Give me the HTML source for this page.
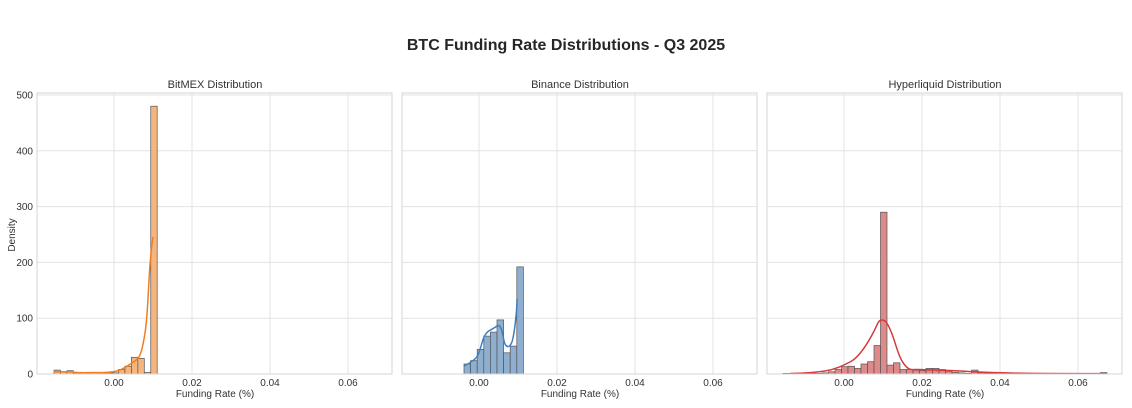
<!DOCTYPE html>
<html><head><meta charset="utf-8"><style>
html,body{margin:0;padding:0;background:#fff;}
svg{display:block;font-family:"Liberation Sans",sans-serif;}
.g{stroke:#e3e3e3;stroke-width:1;}
.fr{fill:none;stroke:#d6d6d6;stroke-width:1;}
.t{font-size:10px;fill:#333;}
.st{font-size:11px;fill:#333;}
.o rect{fill:#f4b57f;stroke:#555;stroke-width:0.7;}
.b rect{fill:#8eafd0;stroke:#555;stroke-width:0.7;}
.r rect{fill:#dd8a8a;stroke:#555;stroke-width:0.7;}
</style></head><body>
<svg width="1132" height="408" viewBox="0 0 1132 408">
<text x="566" y="50" text-anchor="middle" font-size="16" font-weight="bold" fill="#262626">BTC Funding Rate Distributions - Q3 2025</text>

<!-- Panel 1 -->
<g>
<line class="g" x1="37" x2="392" y1="374" y2="374"/><line class="g" x1="37" x2="392" y1="318.2" y2="318.2"/><line class="g" x1="37" x2="392" y1="262.4" y2="262.4"/><line class="g" x1="37" x2="392" y1="206.6" y2="206.6"/><line class="g" x1="37" x2="392" y1="150.8" y2="150.8"/><line class="g" x1="37" x2="392" y1="95" y2="95"/>
<line class="g" x1="114" x2="114" y1="93" y2="374"/><line class="g" x1="192" x2="192" y1="93" y2="374"/><line class="g" x1="270" x2="270" y1="93" y2="374"/><line class="g" x1="348" x2="348" y1="93" y2="374"/>
<g class="o">
<rect x="54" y="370.1" width="6.45" height="3.9"/><rect x="60.45" y="371.8" width="6.45" height="2.2"/><rect x="66.9" y="370.7" width="6.45" height="3.3"/><rect x="73.35" y="372.9" width="6.45" height="1.1"/><rect x="79.8" y="373.4" width="6.45" height="0.6"/><rect x="86.25" y="372.9" width="6.45" height="1.1"/><rect x="92.7" y="372.3" width="6.45" height="1.7"/><rect x="99.15" y="372.9" width="6.45" height="1.1"/><rect x="105.6" y="372.9" width="6.45" height="1.1"/><rect x="112.05" y="372.9" width="6.45" height="1.1"/><rect x="118.5" y="369.5" width="6.45" height="4.5"/><rect x="124.95" y="366.2" width="6.45" height="7.8"/><rect x="131.4" y="357.3" width="6.45" height="16.7"/><rect x="137.85" y="358.4" width="6.45" height="15.6"/><rect x="144.3" y="372.3" width="6.45" height="1.7"/><rect x="150.75" y="106.2" width="6.45" height="267.8"/>
</g>
<path d="M55,371.7 C62,372 68,371.5 73,372.3 S90,372.5 100,372.6 S115,372 120,370 S130,364 135,361 S142,352 145,333 S148,290 150,265 S152,245 153,237" fill="none" stroke="#f07f22" stroke-width="1.5"/>
<rect class="fr" x="37" y="93" width="355" height="281"/>
<text class="t" x="33" y="377.5" text-anchor="end">0</text><text class="t" x="33" y="321.7" text-anchor="end">100</text><text class="t" x="33" y="265.9" text-anchor="end">200</text><text class="t" x="33" y="210.1" text-anchor="end">300</text><text class="t" x="33" y="154.3" text-anchor="end">400</text><text class="t" x="33" y="98.5" text-anchor="end">500</text>
<text class="t" x="114" y="386" text-anchor="middle">0.00</text><text class="t" x="192" y="386" text-anchor="middle">0.02</text><text class="t" x="270" y="386" text-anchor="middle">0.04</text><text class="t" x="348" y="386" text-anchor="middle">0.06</text>
<text class="t" x="215" y="397" text-anchor="middle" font-size="9.5">Funding Rate (%)</text>
<text class="t" x="15" y="235" text-anchor="middle" font-size="9" transform="rotate(-90 15 235)">Density</text>
<text class="st" x="215" y="88" text-anchor="middle">BitMEX Distribution</text>
</g>

<!-- Panel 2 -->
<g>
<line class="g" x1="402" x2="757" y1="318.2" y2="318.2"/><line class="g" x1="402" x2="757" y1="262.4" y2="262.4"/><line class="g" x1="402" x2="757" y1="206.6" y2="206.6"/><line class="g" x1="402" x2="757" y1="150.8" y2="150.8"/><line class="g" x1="402" x2="757" y1="95" y2="95"/>
<line class="g" x1="479" x2="479" y1="93" y2="374"/><line class="g" x1="557" x2="557" y1="93" y2="374"/><line class="g" x1="635" x2="635" y1="93" y2="374"/><line class="g" x1="713" x2="713" y1="93" y2="374"/>
<g class="b">
<rect x="464" y="364" width="6.6" height="10"/><rect x="470.6" y="360.6" width="6.6" height="13.4"/><rect x="477.2" y="349.4" width="6.6" height="24.6"/><rect x="483.8" y="336.1" width="6.6" height="37.9"/><rect x="490.4" y="332.1" width="6.6" height="41.9"/><rect x="497" y="319.9" width="6.6" height="54.1"/><rect x="503.6" y="352.8" width="6.6" height="21.2"/><rect x="510.2" y="346.1" width="6.6" height="27.9"/><rect x="516.8" y="266.9" width="6.6" height="107.1"/>
</g>
<path d="M464,366 C468,364 472,362 476,358 S481,344 484,337 S492,330 497,326 S503,340 505,344 S511,348 513,338 S517,310 517,299" fill="none" stroke="#3f7fbf" stroke-width="1.5"/>
<rect class="fr" x="402" y="93" width="355" height="281"/>
<text class="t" x="479" y="386" text-anchor="middle">0.00</text><text class="t" x="557" y="386" text-anchor="middle">0.02</text><text class="t" x="635" y="386" text-anchor="middle">0.04</text><text class="t" x="713" y="386" text-anchor="middle">0.06</text>
<text class="t" x="580" y="397" text-anchor="middle" font-size="9.5">Funding Rate (%)</text>
<text class="st" x="580" y="88" text-anchor="middle">Binance Distribution</text>
</g>

<!-- Panel 3 -->
<g>
<line class="g" x1="767" x2="1122" y1="318.2" y2="318.2"/><line class="g" x1="767" x2="1122" y1="262.4" y2="262.4"/><line class="g" x1="767" x2="1122" y1="206.6" y2="206.6"/><line class="g" x1="767" x2="1122" y1="150.8" y2="150.8"/><line class="g" x1="767" x2="1122" y1="95" y2="95"/>
<line class="g" x1="844" x2="844" y1="93" y2="374"/><line class="g" x1="922" x2="922" y1="93" y2="374"/><line class="g" x1="1000" x2="1000" y1="93" y2="374"/><line class="g" x1="1078" x2="1078" y1="93" y2="374"/>
<g class="r">
<rect x="783" y="373.4" width="6.5" height="0.6"/>
<rect x="809" y="373.4" width="6.5" height="0.6"/><rect x="815.5" y="373.4" width="6.5" height="0.6"/><rect x="822" y="372.9" width="6.5" height="1.1"/><rect x="828.5" y="371.8" width="6.5" height="2.2"/><rect x="835" y="369.5" width="6.5" height="4.5"/><rect x="841.5" y="366.7" width="6.5" height="7.3"/><rect x="848" y="366.2" width="6.5" height="7.8"/><rect x="854.5" y="368.4" width="6.5" height="5.6"/><rect x="861" y="364" width="6.5" height="10"/><rect x="867.5" y="361.7" width="6.5" height="12.3"/><rect x="874" y="345.5" width="6.5" height="28.5"/><rect x="880.5" y="212.2" width="6.5" height="161.8"/><rect x="887" y="365.1" width="6.5" height="8.9"/><rect x="893.5" y="362.8" width="6.5" height="11.2"/><rect x="900" y="369.5" width="6.5" height="4.5"/><rect x="906.5" y="369.5" width="6.5" height="4.5"/><rect x="913" y="370.1" width="6.5" height="3.9"/><rect x="919.5" y="370.7" width="6.5" height="3.3"/><rect x="926" y="368.4" width="6.5" height="5.6"/><rect x="932.5" y="368.4" width="6.5" height="5.6"/><rect x="939" y="369.5" width="6.5" height="4.5"/><rect x="945.5" y="371.2" width="6.5" height="2.8"/><rect x="952" y="372.3" width="6.5" height="1.7"/><rect x="958.5" y="372.9" width="6.5" height="1.1"/><rect x="965" y="373.4" width="6.5" height="0.6"/><rect x="971.5" y="370.1" width="6.5" height="3.9"/><rect x="978" y="372.9" width="6.5" height="1.1"/><rect x="984.5" y="373.4" width="6.5" height="0.6"/><rect x="991" y="373.4" width="6.5" height="0.6"/><rect x="1100.5" y="372.6" width="6.5" height="1.4"/>
</g>
<path d="M790,373.5 C805,373.3 815,372.5 825,371 S842,366 850,362 S866,346 872,335 S878,320 882,320 S888,324 892,334 S898,356 904,364 S912,369 920,369.5 S945,370 960,371 S990,372.5 1010,373 S1080,373.6 1107,373.6" fill="none" stroke="#d63a3a" stroke-width="1.5"/>
<rect class="fr" x="767" y="93" width="355" height="281"/>
<text class="t" x="844" y="386" text-anchor="middle">0.00</text><text class="t" x="922" y="386" text-anchor="middle">0.02</text><text class="t" x="1000" y="386" text-anchor="middle">0.04</text><text class="t" x="1078" y="386" text-anchor="middle">0.06</text>
<text class="t" x="945" y="397" text-anchor="middle" font-size="9.5">Funding Rate (%)</text>
<text class="st" x="945" y="88" text-anchor="middle">Hyperliquid Distribution</text>
</g>
</svg>
</body></html>
